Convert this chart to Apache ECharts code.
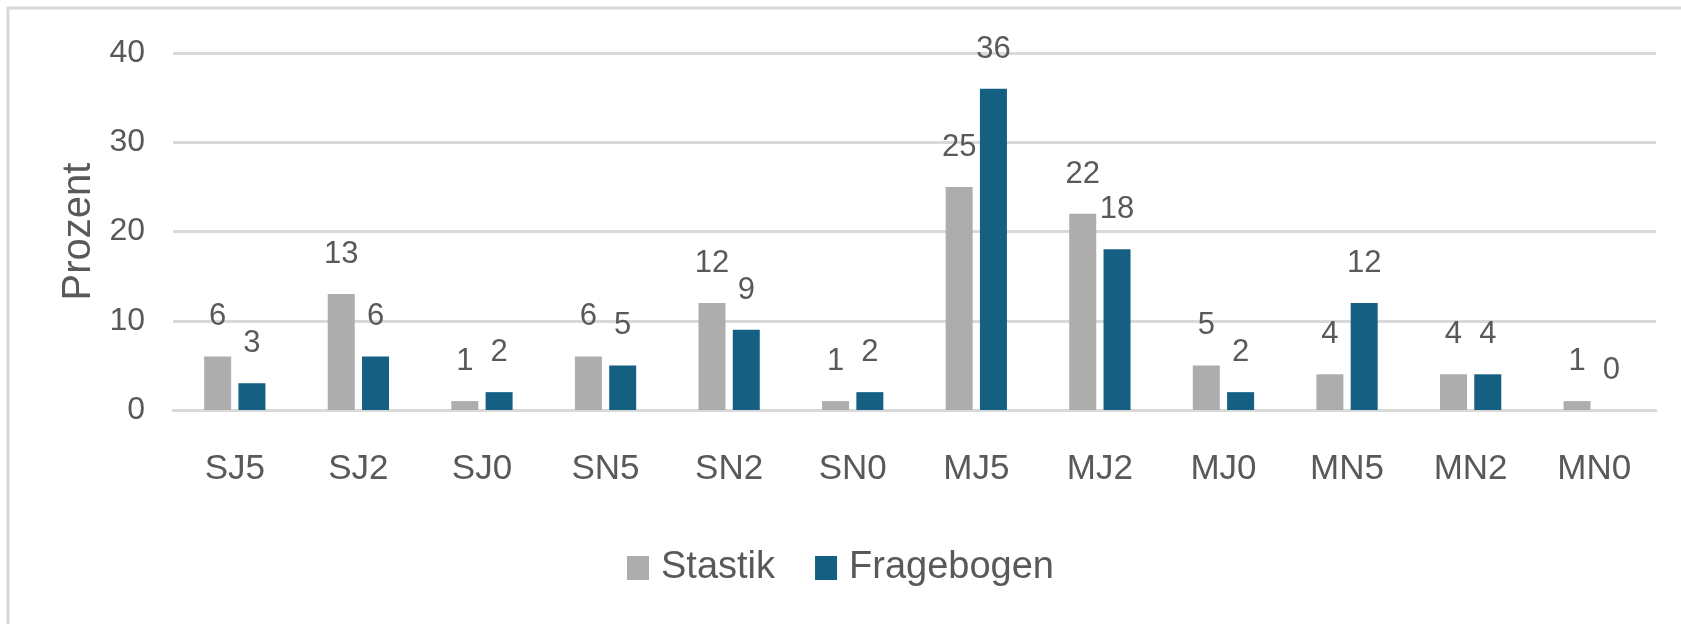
<!DOCTYPE html>
<html>
<head>
<meta charset="utf-8">
<script src="https://cdn.jsdelivr.net/npm/echarts@6/dist/echarts.min.js"></script>
<style>
  html, body { margin: 0; padding: 0; background: #fff; }
  #chart { width: 1681px; height: 624px; }
</style>
</head>
<body>
<div id="chart"></div>
<script>
const categories = ['SJ5', 'SJ2', 'SJ0', 'SN5', 'SN2', 'SN0', 'MJ5', 'MJ2', 'MJ0', 'MN5', 'MN2', 'MN0'];
const stastik = [6, 13, 1, 6, 12, 1, 25, 22, 5, 4, 4, 1];
const fragebogen = [3, 6, 2, 5, 9, 2, 36, 18, 2, 12, 4, 0];
const yTicks = [0, 10, 20, 30, 40];

const FONT = '"Liberation Sans", Arial, sans-serif';
const TEXT = '#595959';

const chart = echarts.init(document.getElementById('chart'), null, { renderer: 'canvas' });

const labelCfg = {
  show: true,
  position: 'top',
  distance: 24,
  color: TEXT,
  fontSize: 31,
  fontFamily: FONT
};

chart.setOption({
  animation: false,
  backgroundColor: '#ffffff',
  graphic: [{
    type: 'rect',
    shape: { x: 8, y: 8, width: 2000, height: 2000 },
    style: { fill: 'none', stroke: '#d9d9d9', lineWidth: 3 },
    silent: true
  }],
  grid: { left: 173, right: 25, top: 53, bottom: 214, containLabel: false },
  legend: {
    data: ['Stastik', 'Fragebogen'],
    left: 'center',
    top: 544,
    itemWidth: 22,
    itemHeight: 24,
    itemGap: 40,
    icon: 'rect',
    textStyle: { color: TEXT, fontSize: 38, fontFamily: FONT, padding: [0, 0, 0, 7] }
  },
  xAxis: {
    type: 'category',
    data: categories,
    axisLine: { show: true, lineStyle: { color: '#d9d9d9', width: 3 } },
    axisTick: { show: false },
    axisLabel: { color: TEXT, fontSize: 35, fontFamily: FONT, margin: 42 }
  },
  yAxis: {
    type: 'value',
    min: 0,
    max: 40,
    interval: 10,
    name: 'Prozent',
    nameLocation: 'middle',
    nameGap: 66,
    nameTextStyle: { color: TEXT, fontSize: 40, fontFamily: FONT },
    axisLine: { show: false },
    axisTick: { show: false },
    axisLabel: {
      color: TEXT, fontSize: 32, fontFamily: FONT, margin: 28,
      formatter: v => (yTicks.indexOf(v) >= 0 ? String(v) : '')
    },
    splitLine: { show: true, lineStyle: { color: '#d9d9d9', width: 3 } }
  },
  series: [
    {
      name: 'Stastik',
      type: 'bar',
      data: stastik,
      barWidth: 27,
      barGap: '27%',
      itemStyle: { color: '#adadad' },
      label: labelCfg
    },
    {
      name: 'Fragebogen',
      type: 'bar',
      data: fragebogen,
      barWidth: 27,
      itemStyle: { color: '#156082' },
      label: labelCfg
    }
  ]
});
</script>
</body>
</html>
